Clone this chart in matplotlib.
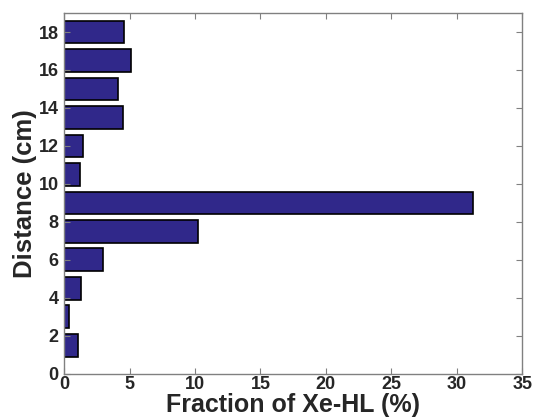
import matplotlib
matplotlib.use("Agg")
import matplotlib.pyplot as plt

# данные
distance_cm = [1.5, 3.0, 4.5, 6.0, 7.5, 9.0, 10.5, 12.0, 13.5, 15.0, 16.5, 18.0]
fraction_pct = [1.07, 0.38, 1.30, 2.95, 10.2, 31.2, 1.25, 1.48, 4.53, 4.15, 5.12, 4.58]

x_ticks = [0, 5, 10, 15, 20, 25, 30, 35]
y_ticks = [0, 2, 4, 6, 8, 10, 12, 14, 16, 18]

plt.rcParams["font.family"] = ["Liberation Sans", "DejaVu Sans"]
plt.rcParams["font.weight"] = "bold"

fig = plt.figure(figsize=(5.34, 4.2), dpi=100)
ax = fig.add_axes([0.12, 0.11, 0.858, 0.859])

ax.barh(distance_cm, fraction_pct, height=1.2, color="#30288a",
        edgecolor="black", linewidth=1.2)

ax.set_xlim(0, 35)
ax.set_ylim(0, 19)
ax.set_xticks(x_ticks)
ax.set_yticks(y_ticks)

text_color = "#262626"
ax.tick_params(direction="in", top=True, right=True, length=4,
               color="#808080", labelsize=13, labelcolor=text_color)
ax.tick_params(axis="x", pad=1.5)
ax.tick_params(axis="y", pad=4)
for lbl in ax.get_xticklabels() + ax.get_yticklabels():
    lbl.set_fontweight("bold")
for spine in ax.spines.values():
    spine.set_color("#808080")
    spine.set_linewidth(1.0)

ax.set_xlabel("Fraction of Xe-HL (%)", fontsize=18, fontweight="bold",
              color=text_color, labelpad=0)
ax.set_ylabel("Distance (cm)", fontsize=18.5, fontweight="bold",
              color=text_color, labelpad=1)

fig.savefig("out.png", dpi=100)
